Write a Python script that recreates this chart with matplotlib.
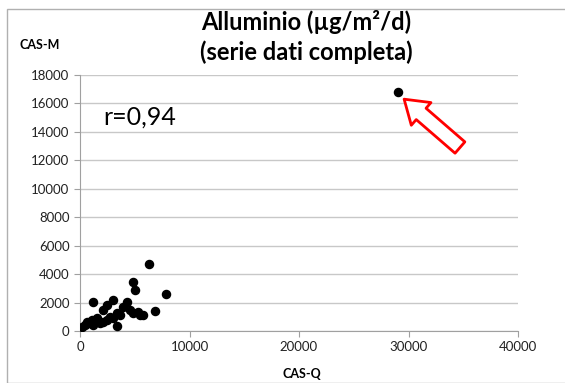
import numpy as np
import matplotlib.pyplot as plt
from matplotlib.patches import Rectangle

# Dati (CAS-Q, CAS-M)
cas_q = [150, 460, 610, 910, 1070, 1220, 1520, 1830, 2130, 2130, 2440, 2440, 2740,
         3040, 3040, 3350, 3400, 3650, 3950, 4260, 4570, 4870, 4870, 5050, 5330,
         5480, 5780, 6330, 6850, 7850, 1190, 29000]
cas_m = [300, 400, 650, 540, 770, 420, 890, 540, 650, 1480, 770, 1830, 1010,
         890, 2180, 1250, 370, 1130, 1710, 2060, 1480, 1250, 3450, 2890, 1360,
         1130, 1130, 4700, 1410, 2630, 2020, 16800]

xticks = [0, 10000, 20000, 30000, 40000]
yticks = list(range(0, 18001, 2000))

plt.rcParams['font.family'] = ['Lato', 'DejaVu Sans']

fig = plt.figure(figsize=(5.65, 3.83), dpi=100)
ax = fig.add_axes([80/565, 1-331/383, (518-80)/565, (331-75)/383])

# cornice del grafico
fig.patches.append(Rectangle((7/565, 0), 1, 1-9/383, transform=fig.transFigure,
                             fill=False, ec='#b0b0b0', lw=1))

ax.scatter(cas_q, cas_m, s=34, color='black', zorder=3)

ax.set_xlim(0, 40000)
ax.set_ylim(0, 18000)
ax.set_xticks(xticks)
ax.set_yticks(yticks)
ax.tick_params(labelsize=9.5, length=4, colors='#222222')
ax.tick_params(axis='both', color='#a0a0a0')
ax.grid(axis='y', color='#c8c8c8', lw=1)
ax.set_axisbelow(True)
for s in ['top', 'right']:
    ax.spines[s].set_visible(False)
for s in ['left', 'bottom']:
    ax.spines[s].set_color('#a0a0a0')

fig.text(306/565, 1-37/383, "Alluminio (µg/m²/d)\n(serie dati completa)",
         ha='center', va='center', fontsize=17, fontweight='bold', linespacing=1.35)
fig.text(40/565, 1-45/383, "CAS-M", ha='center', va='center', fontsize=9, fontweight='bold')
fig.text(302/565, 1-374/383, "CAS-Q", ha='center', va='center', fontsize=9, fontweight='bold')
fig.text(140/565, 1-117/383, "r=0,94", ha='center', va='center', fontsize=18)

# freccia rossa
ax.annotate('', xy=(29600, 16300), xytext=(34700, 12900),
            arrowprops=dict(arrowstyle='simple,head_width=1.2,head_length=0.9,tail_width=0.6',
                            fc='white', ec='red', lw=2, shrinkA=0, shrinkB=0,
                            mutation_scale=18))

plt.savefig('out.png', dpi=100)
